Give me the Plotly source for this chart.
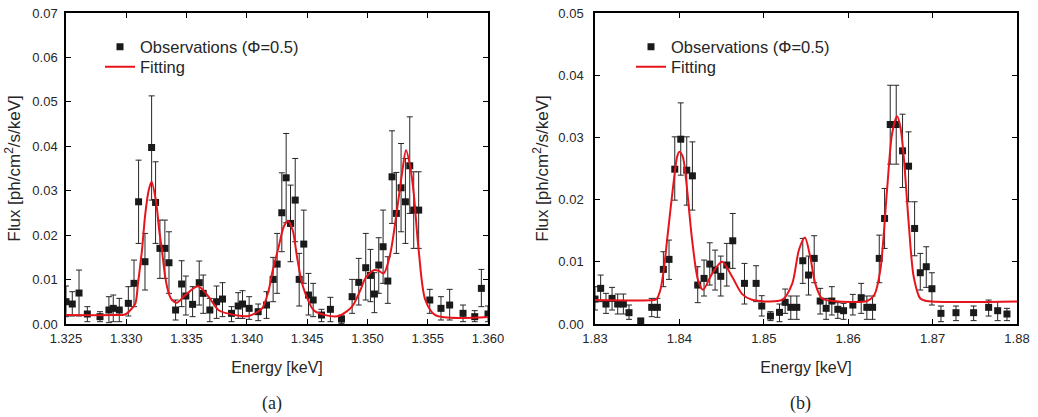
import plotly.graph_objects as go

# ---------------- Panel (a) data ----------------
a_x = [1.32500, 1.32552, 1.32608, 1.32677, 1.32782, 1.32856, 1.32892, 1.32942, 1.33017, 1.33064,
       1.33102, 1.33155, 1.33210, 1.33243, 1.33279, 1.33320, 1.33354, 1.33409, 1.33459, 1.33494,
       1.33550, 1.33605, 1.33638, 1.33693, 1.33749, 1.33798, 1.33873, 1.33928, 1.33964, 1.34019,
       1.34094, 1.34163, 1.34218, 1.34251, 1.34290, 1.34326, 1.34362, 1.34401, 1.34434, 1.34472,
       1.34511, 1.34550, 1.34619, 1.34693, 1.34785, 1.34873, 1.34928, 1.34986, 1.35025, 1.35058,
       1.35094, 1.35130, 1.35169, 1.35204, 1.35240, 1.35279, 1.35315, 1.35351, 1.35384, 1.35425,
       1.35517, 1.35610, 1.35682, 1.35793, 1.35890, 1.35945, 1.36000]
a_y = [0.00502, 0.00450, 0.00697, 0.00225, 0.00165, 0.00315, 0.00352, 0.00315, 0.00465, 0.00915,
       0.02751, 0.01402, 0.03973, 0.02736, 0.01702, 0.01702, 0.01379, 0.00315, 0.00900, 0.00630,
       0.00442, 0.00930, 0.00690, 0.00315, 0.00502, 0.00562, 0.00240, 0.00405, 0.00450, 0.00352,
       0.00277, 0.00427, 0.01004, 0.01349, 0.02504, 0.03291, 0.02264, 0.02789, 0.01004, 0.01799,
       0.00652, 0.00540, 0.00202, 0.00330, 0.00112, 0.00615, 0.00937, 0.01267, 0.01094, 0.00675,
       0.01327, 0.01739, 0.00967, 0.03313, 0.02489, 0.03066, 0.02751, 0.03561, 0.02564, 0.02564,
       0.00540, 0.00352, 0.00427, 0.00240, 0.00165, 0.00802, 0.00225]
a_hi = [0.00855, 0.00727, 0.01214, 0.00390, 0.00277, 0.00615, 0.00652, 0.00577, 0.00840, 0.01439,
        0.03688, 0.02039, 0.05135, 0.03651, 0.02339, 0.02339, 0.02076, 0.00540, 0.01424, 0.01079,
        0.00840, 0.01417, 0.01102, 0.00577, 0.00855, 0.00930, 0.00390, 0.00705, 0.00750, 0.00615,
        0.00450, 0.00727, 0.01499, 0.02039, 0.03403, 0.04288, 0.03126, 0.03726, 0.01589, 0.02564,
        0.01139, 0.00915, 0.00330, 0.00600, 0.00202, 0.01004, 0.01477, 0.02039, 0.01679, 0.01154,
        0.01942, 0.02564, 0.01514, 0.04348, 0.03411, 0.04063, 0.03726, 0.04663, 0.03426, 0.03426,
        0.00780, 0.00615, 0.00780, 0.00427, 0.00300, 0.01229, 0.00405]
a_lo = [0.00165, 0.00180, 0.00180, 0.00052, 0.00052, 0.00030, 0.00052, 0.00052, 0.00180, 0.00390,
        0.01814, 0.00765, 0.02789, 0.01814, 0.01027, 0.01027, 0.00690, 0.00090, 0.00390, 0.00202,
        0.00165, 0.00427, 0.00240, 0.00052, 0.00127, 0.00165, 0.00052, 0.00127, 0.00127, 0.00105,
        0.00075, 0.00127, 0.00502, 0.00690, 0.01627, 0.02279, 0.01402, 0.01852, 0.00405, 0.00915,
        0.00202, 0.00165, 0.00052, 0.00052, 0.00015, 0.00240, 0.00427, 0.00540, 0.00502, 0.00255,
        0.00690, 0.00915, 0.00465, 0.02264, 0.01589, 0.02076, 0.01814, 0.02489, 0.01702, 0.01702,
        0.00240, 0.00090, 0.00090, 0.00052, 0.00052, 0.00390, 0.00052]

a_fit_x = [1.3250, 1.3290, 1.3298, 1.33006, 1.33033, 1.33075, 1.33097, 1.3313, 1.33158, 1.33186,
           1.3321, 1.33249, 1.33273, 1.33296, 1.33323, 1.33352, 1.33379, 1.3342, 1.33489, 1.33595,
           1.33684, 1.33766, 1.33904, 1.34015, 1.34126, 1.34181, 1.34209, 1.34264, 1.34306, 1.34341,
           1.3438, 1.34416, 1.34451, 1.34485, 1.34554, 1.3465, 1.34762, 1.34872, 1.34941, 1.34983,
           1.35052, 1.35093, 1.35135, 1.3519, 1.35245, 1.35287, 1.3532, 1.35356, 1.35384, 1.35425,
           1.3548, 1.35563, 1.3600]
a_fit_y = [0.0020, 0.0020, 0.0021, 0.0024, 0.0031, 0.0046, 0.0091, 0.0166, 0.0249, 0.0301,
           0.0320, 0.0271, 0.0211, 0.0166, 0.0106, 0.0069, 0.0054, 0.0048, 0.0065, 0.0085,
           0.0061, 0.0031, 0.0020, 0.0018, 0.0035, 0.0076, 0.0114, 0.0174, 0.0219, 0.0232,
           0.0211, 0.0151, 0.0099, 0.0069, 0.0031, 0.0020, 0.0018, 0.0039, 0.0076, 0.0103,
           0.0121, 0.0120, 0.0114, 0.0159, 0.0256, 0.0339, 0.0391, 0.0353, 0.0294, 0.0166,
           0.0054, 0.0020, 0.0016]

# ---------------- Panel (b) data ----------------
b_x = [1.83000, 1.83067, 1.83130, 1.83202, 1.83269, 1.83336, 1.83403, 1.83542, 1.83672, 1.83739,
       1.83810, 1.83877, 1.83945, 1.84016, 1.84087, 1.84154, 1.84217, 1.84292, 1.84360, 1.84423,
       1.84490, 1.84561, 1.84632, 1.84771, 1.84909, 1.84976, 1.85079, 1.85186, 1.85253, 1.85320,
       1.85391, 1.85462, 1.85530, 1.85597, 1.85668, 1.85739, 1.85806, 1.85877, 1.85945, 1.86055,
       1.86154, 1.86221, 1.86289, 1.86368, 1.86431, 1.86498, 1.86569, 1.86644, 1.86715, 1.86787,
       1.86854, 1.86925, 1.86992, 1.87099, 1.87277, 1.87486, 1.87664, 1.87771, 1.87881]
b_y = [0.00401, 0.00573, 0.00321, 0.00412, 0.00321, 0.00321, 0.00182, 0.00048, 0.00268, 0.00268,
       0.00878, 0.01039, 0.02489, 0.02971, 0.02473, 0.02382, 0.00626, 0.00733, 0.00964, 0.00867,
       0.00766, 0.00948, 0.01338, 0.00653, 0.00653, 0.00289, 0.00128, 0.00187, 0.00348, 0.00268,
       0.00268, 0.01017, 0.00787, 0.01055, 0.00369, 0.00252, 0.00369, 0.00236, 0.00214, 0.00305,
       0.00423, 0.00268, 0.00268, 0.01055, 0.01697, 0.03207, 0.03207, 0.02784, 0.02537, 0.01536,
       0.00824, 0.00921, 0.00567, 0.00171, 0.00182, 0.00182, 0.00268, 0.00214, 0.00161]
b_hi = [0.00600, 0.00787, 0.00493, 0.00589, 0.00482, 0.00482, 0.00305, 0.00091, 0.00412, 0.00412,
        0.01162, 0.01349, 0.03009, 0.03555, 0.03009, 0.02928, 0.00921, 0.01028, 0.01306, 0.01188,
        0.01092, 0.01296, 0.01777, 0.00974, 0.00937, 0.00455, 0.00198, 0.00321, 0.00562, 0.00450,
        0.00450, 0.01376, 0.01092, 0.01419, 0.00573, 0.00412, 0.00600, 0.00343, 0.00332, 0.00476,
        0.00653, 0.00450, 0.00450, 0.01429, 0.02179, 0.03838, 0.03838, 0.03373, 0.03089, 0.01965,
        0.01135, 0.01242, 0.00824, 0.00289, 0.00289, 0.00289, 0.00385, 0.00359, 0.00252]
b_lo = [0.00225, 0.00359, 0.00171, 0.00225, 0.00161, 0.00161, 0.00075, 0.00011, 0.00118, 0.00107,
        0.00600, 0.00717, 0.01991, 0.02393, 0.01911, 0.01831, 0.00343, 0.00450, 0.00626, 0.00546,
        0.00450, 0.00610, 0.00894, 0.00321, 0.00359, 0.00128, 0.00054, 0.00037, 0.00171, 0.00075,
        0.00075, 0.00653, 0.00466, 0.00664, 0.00161, 0.00075, 0.00145, 0.00091, 0.00075, 0.00145,
        0.00171, 0.00075, 0.00075, 0.00664, 0.01215, 0.02570, 0.02570, 0.02195, 0.01965, 0.01097,
        0.00546, 0.00589, 0.00305, 0.00037, 0.00054, 0.00054, 0.00128, 0.00054, 0.00054]

b_fit_x = [1.8300, 1.8370, 1.8373, 1.83775, 1.83815, 1.83854, 1.83934, 1.83973, 1.8400, 1.8404,
           1.8408, 1.84151, 1.8422, 1.8428, 1.84388, 1.84506, 1.84625, 1.84744, 1.8486, 1.8522,
           1.85337, 1.85416, 1.85487, 1.8555, 1.8561, 1.85689, 1.85827, 1.86223, 1.8631, 1.86381,
           1.8646, 1.8652, 1.86579, 1.86618, 1.86658, 1.86717, 1.86776, 1.86855, 1.86934, 1.8800]
b_fit_y = [0.00385, 0.00385, 0.0040, 0.0055, 0.0087, 0.0135, 0.0231, 0.0269, 0.0277, 0.0269,
           0.0231, 0.0135, 0.0071, 0.0055, 0.0081, 0.0100, 0.0076, 0.0048, 0.0039, 0.0039,
           0.0065, 0.0119, 0.0139, 0.0108, 0.0065, 0.0041, 0.0037, 0.0037, 0.0047, 0.0087,
           0.0215, 0.0306, 0.0334, 0.0317, 0.0269, 0.0162, 0.0076, 0.0041, 0.0037, 0.0036]

a_xticks = [1.325, 1.330, 1.335, 1.340, 1.345, 1.350, 1.355, 1.360]
a_yticks = [0.00, 0.01, 0.02, 0.03, 0.04, 0.05, 0.06, 0.07]
b_xticks = [1.83, 1.84, 1.85, 1.86, 1.87, 1.88]
b_yticks = [0.00, 0.01, 0.02, 0.03, 0.04, 0.05]

OBS_NAME = "Observations (\u03a6=0.5)"
FIT_NAME = "Fitting"
Y_TITLE = "Flux [ph/cm<sup>2</sup>/s/keV]"
X_TITLE = "Energy [keV]"

W, H = 1038, 417
def px_x(p):
    return p / W
def px_y(p):
    return 1 - p / H

MARK = "#1a1a1a"
RED = "#e8141c"
FONT = "Liberation Sans, Arial, sans-serif"
TXT = "#262626"

fig = go.Figure()

def add_panel(xs, ys, hi, lo, fx, fy, xa, ya, leg_obs, leg_fit):
    fig.add_trace(go.Scatter(
        x=xs, y=ys, mode="markers", name=OBS_NAME, xaxis=xa, yaxis=ya, legend=leg_obs,
        showlegend=True,
        marker=dict(symbol="square", size=7, color=MARK),
        error_y=dict(type="data", symmetric=False,
                     array=[h - v for h, v in zip(hi, ys)],
                     arrayminus=[v - l for v, l in zip(ys, lo)],
                     color="#262626", thickness=1, width=3),
    ))
    fig.add_trace(go.Scatter(
        x=fx, y=fy, mode="lines", name=FIT_NAME, xaxis=xa, yaxis=ya, legend=leg_fit,
        showlegend=True,
        line=dict(color=RED, width=2, shape="spline", smoothing=0.8),
    ))

add_panel(a_x, a_y, a_hi, a_lo, a_fit_x, a_fit_y, "x", "y", "legend", "legend3")
add_panel(b_x, b_y, b_hi, b_lo, b_fit_x, b_fit_y, "x2", "y2", "legend2", "legend4")

axis_common = dict(
    showline=True, linecolor="black", linewidth=1.5, mirror="ticks",
    ticks="inside", ticklen=5, tickwidth=1.2, tickcolor="black",
    showgrid=False, zeroline=False, automargin=False,
    tickfont=dict(family=FONT, size=13, color=TXT),
)
x_title_font = dict(family=FONT, size=16, color=TXT)
y_title_font = dict(family=FONT, size=17, color=TXT)

def leg(xp, yp):
    return dict(x=px_x(xp), y=px_y(yp), xanchor="left", yanchor="middle",
                bgcolor="rgba(0,0,0,0)", font=dict(family=FONT, size=16.5, color=TXT),
                itemwidth=30, borderwidth=0, visible=True)

fig.update_layout(
    width=W, height=H, margin=dict(l=0, r=0, t=0, b=0, autoexpand=False),
    showlegend=True,
    paper_bgcolor="white", plot_bgcolor="white",
    font=dict(family=FONT, color=TXT),
    xaxis=dict(domain=[px_x(66), px_x(488)], anchor="y", range=[1.325, 1.360],
               tickvals=a_xticks, ticktext=[f"{v:.3f}" for v in a_xticks], ticklabelstandoff=2,
               title=dict(text=X_TITLE, standoff=16, font=x_title_font), **axis_common),
    yaxis=dict(domain=[px_y(324), px_y(13)], anchor="x", range=[0, 0.07],
               tickvals=a_yticks, ticktext=[f"{v:.2f}" for v in a_yticks], ticklabelstandoff=4,
               title=dict(text=Y_TITLE, standoff=7, font=y_title_font), **axis_common),
    xaxis2=dict(domain=[px_x(595), px_x(1017)], anchor="y2", range=[1.83, 1.88],
                tickvals=b_xticks, ticktext=[f"{v:.2f}" for v in b_xticks], ticklabelstandoff=2,
                title=dict(text=X_TITLE, standoff=16, font=x_title_font), **axis_common),
    yaxis2=dict(domain=[px_y(324), px_y(13)], anchor="x2", range=[0, 0.05],
                tickvals=b_yticks, ticktext=[f"{v:.2f}" for v in b_yticks], ticklabelstandoff=7,
                title=dict(text=Y_TITLE, standoff=5, font=y_title_font), **axis_common),
    legend=leg(100, 47),
    legend3=leg(100, 67),
    legend2=leg(631, 47),
    legend4=leg(631, 67),
    annotations=[
        dict(text="(a)", x=px_x(272), y=px_y(403), xref="paper", yref="paper",
             xanchor="center", yanchor="middle", showarrow=False,
             font=dict(family="Liberation Serif, serif", size=18, color=TXT)),
        dict(text="(b)", x=px_x(800), y=px_y(403), xref="paper", yref="paper",
             xanchor="center", yanchor="middle", showarrow=False,
             font=dict(family="Liberation Serif, serif", size=18, color=TXT)),
    ],
)

fig.write_html("out.html", config={"displayModeBar": False},
               post_script="document.body.style.margin='0';document.body.style.overflow='hidden';")
